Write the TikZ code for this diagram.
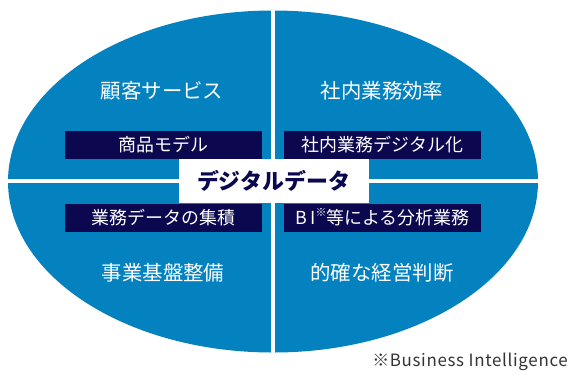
\documentclass[tikz,border=0pt]{standalone}
\usepackage{fontspec}
\setmainfont{Noto Sans CJK JP}
\newfontfamily\fnfont[LetterSpace=4]{Noto Sans CJK JP}
\definecolor{ellblue}{HTML}{0481BF}
\definecolor{navy}{HTML}{0B0850}
\begin{document}
\begin{tikzpicture}[x=1bp,y=-1bp,
  quad/.style={text=white,font=\fontsize{20.5}{20.5}\selectfont,anchor=center,inner sep=0pt},
  tag/.style={fill=navy,text=white,minimum width=197bp,minimum height=28bp,inner sep=0pt,font=\fontsize{18}{18}\selectfont,anchor=center},
  core/.style={fill=white,text=navy,minimum width=190bp,minimum height=44bp,inner sep=0pt,font=\fontsize{22}{22}\selectfont\bfseries,anchor=center},
  gap/.style={white,line width=3.5bp}]
\useasboundingbox (0,0) rectangle (571,374);
\fill[ellblue] (273,181.5) ellipse [x radius=265, y radius=171];
\draw[gap] (273,5) -- (273,360);
\draw[gap] (0,181) -- (546,181);
\node[quad] (q1) at (162,91) {顧客サービス};
\node[quad] (q2) at (382,91) {社内業務効率};
\node[quad] (q3) at (163,273) {事業基盤整備};
\node[quad] (q4) at (382,273) {的確な経営判断};
\node[tag] (t1) at (163.5,145) {商品モデル};
\node[tag] (t2) at (382.5,145) {社内業務デジタル化};
\node[tag] (t3) at (163.5,217.5) {業務データの集積};
\node[tag] (t4) at (382.5,217.5) {B\,I\raisebox{0.45em}{\fontsize{11}{11}\selectfont ※}等による分析業務};
\node[core] (c) at (273.5,180.5) {デジタルデータ};
\node[anchor=east,inner sep=0pt,text=black!80,font=\fnfont\fontsize{17}{17}\selectfont] (fn) at (568,362) {※Business Intelligence};
\end{tikzpicture}
\end{document}
